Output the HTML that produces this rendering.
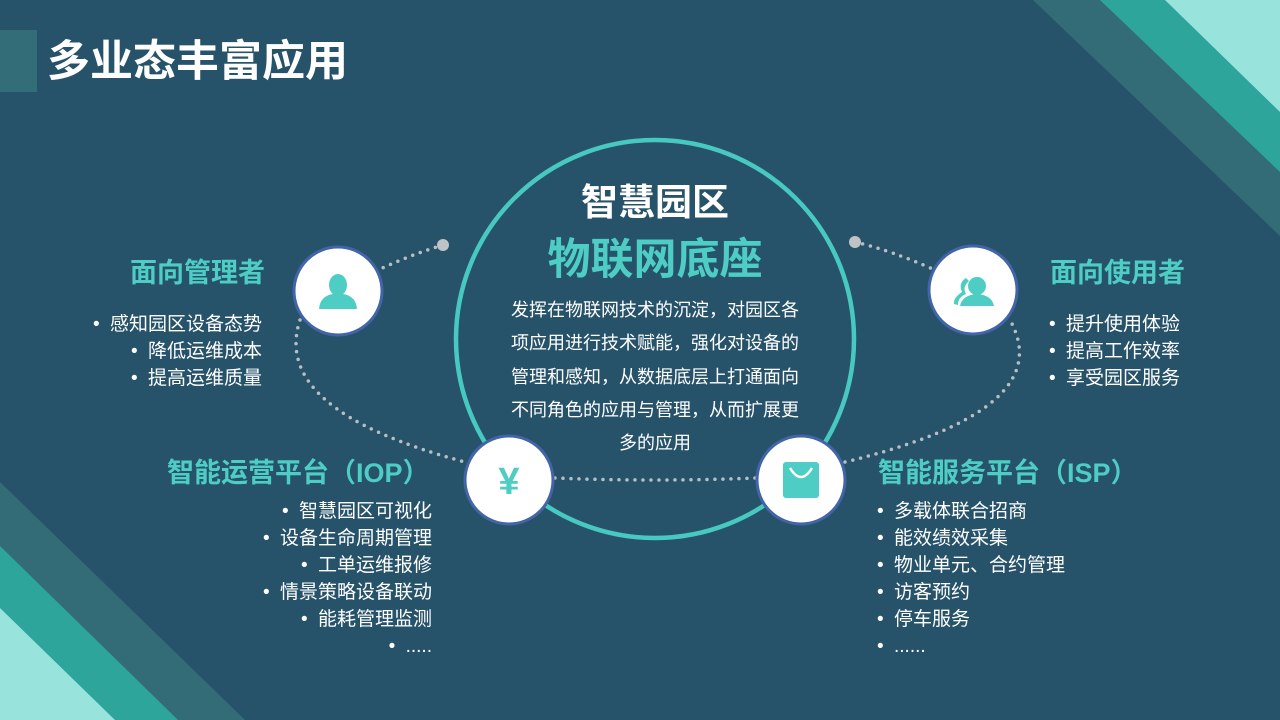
<!DOCTYPE html>
<html><head><meta charset="utf-8"><style>
html,body{margin:0;padding:0;}
body{width:1280px;height:720px;background:#27536a;position:relative;overflow:hidden;font-family:"Liberation Sans","Noto Sans CJK SC",sans-serif;}
.t{position:absolute;white-space:nowrap;}
.h{color:#4ecdc4;font-weight:bold;font-size:27px;line-height:32px;}
.l{color:#fff;font-size:19px;line-height:27px;}
.r{text-align:right;}
.b{display:inline-block;width:17px;text-align:left;}
</style></head><body>
<svg width="1280" height="720" style="position:absolute;left:0;top:0">
<polygon points="1033,0 1280,0 1280,236" fill="#336c77"/>
<polygon points="1100,0 1280,0 1280,172" fill="#2ea59b"/>
<polygon points="1165,0 1280,0 1280,112" fill="#98e3dc"/>
<polygon points="0,482 245,720 0,720" fill="#336c77"/>
<polygon points="0,546 178,720 0,720" fill="#2ea59b"/>
<polygon points="0,608 115,720 0,720" fill="#98e3dc"/>
<rect x="0" y="30" width="37" height="62" fill="#336e78"/>
<g fill="none" stroke="#b8bfc4" stroke-width="3.5" stroke-linecap="round" stroke-dasharray="0 8">
<path d="M443,245 Q410,255 378,270"/>
<path d="M300,320 Q270,410 465,462"/>
<path d="M555,478 Q655,482 756,478"/>
<path d="M845,462 Q1060,410 1010,320"/>
<path d="M855,242 Q890,250 935,270"/>
</g>
<circle cx="443" cy="245" r="6" fill="#bfc3c6"/>
<circle cx="855" cy="242" r="6" fill="#bfc3c6"/>
<circle cx="655" cy="339" r="199" fill="none" stroke="#47c9c0" stroke-width="4.5"/>
<g fill="#fff" stroke="#4264a8" stroke-width="3">
<circle cx="338" cy="291" r="44"/>
<circle cx="973" cy="290" r="44"/>
<circle cx="509" cy="480" r="44"/>
<circle cx="801" cy="480" r="44"/>
</g>
<g fill="#4ecdc4">
<ellipse cx="338" cy="285" rx="9" ry="11"/>
<path d="M319,309 Q320,296 333,294 L343,294 Q356,296 357,309 Z"/>
<circle cx="977" cy="286" r="9"/>
<path d="M960,306 Q962,295 977,294 Q992,295 994,306 Z"/>
<path d="M966,278 Q958,283 962,292 Q953,298 954,304 L958,305 Q958,297 966,294 Q962,287 969,281 Z"/>
<rect x="783" y="462" width="36" height="36" rx="3"/>
<text x="509" y="494" font-size="38" font-weight="bold" text-anchor="middle" font-family="Liberation Sans,sans-serif">¥</text>
</g>
<path d="M790,468 Q801,486 812,468" fill="none" stroke="#fff" stroke-width="2.5"/>
</svg>
<div class="t" style="left:47px;top:35px;font-size:43px;font-weight:bold;color:#fff;line-height:54px;">多业态丰富应用</div>
<div class="t" style="left:505px;top:180px;width:300px;text-align:center;font-size:37px;font-weight:bold;color:#fff;line-height:46px;">智慧园区</div>
<div class="t" style="left:505px;top:233px;width:300px;text-align:center;font-size:43px;font-weight:bold;color:#4ecdc4;line-height:54px;">物联网底座</div>
<div class="t" style="left:507px;top:294px;width:296px;text-align:center;font-size:18px;color:#fff;line-height:33.3px;white-space:normal;">发挥在物联网技术的沉淀，对园区各项应用进行技术赋能，强化对设备的管理和感知，从数据底层上打通面向不同角色的应用与管理，从而扩展更多的应用</div>
<div class="t h r" style="right:1015px;top:257px;">面向管理者</div>
<div class="t l r" style="right:1018px;top:311px;"><span class="b">•</span>感知园区设备态势<br><span class="b">•</span>降低运维成本<br><span class="b">•</span>提高运维质量</div>
<div class="t h" style="left:1050px;top:257px;">面向使用者</div>
<div class="t l" style="left:1049px;top:311px;"><span class="b">•</span>提升使用体验<br><span class="b">•</span>提高工作效率<br><span class="b">•</span>享受园区服务</div>
<div class="t h" style="left:167px;top:457px;">智能运营平台（IOP）</div>
<div class="t l r" style="right:848px;top:498px;"><span class="b">•</span>智慧园区可视化<br><span class="b">•</span>设备生命周期管理<br><span class="b">•</span>工单运维报修<br><span class="b">•</span>情景策略设备联动<br><span class="b">•</span>能耗管理监测<br><span class="b">•</span>.....</div>
<div class="t h" style="left:878px;top:457px;">智能服务平台（ISP）</div>
<div class="t l" style="left:877px;top:498px;"><span class="b">•</span>多载体联合招商<br><span class="b">•</span>能效绩效采集<br><span class="b">•</span>物业单元、合约管理<br><span class="b">•</span>访客预约<br><span class="b">•</span>停车服务<br><span class="b">•</span>......</div>
</body></html>
